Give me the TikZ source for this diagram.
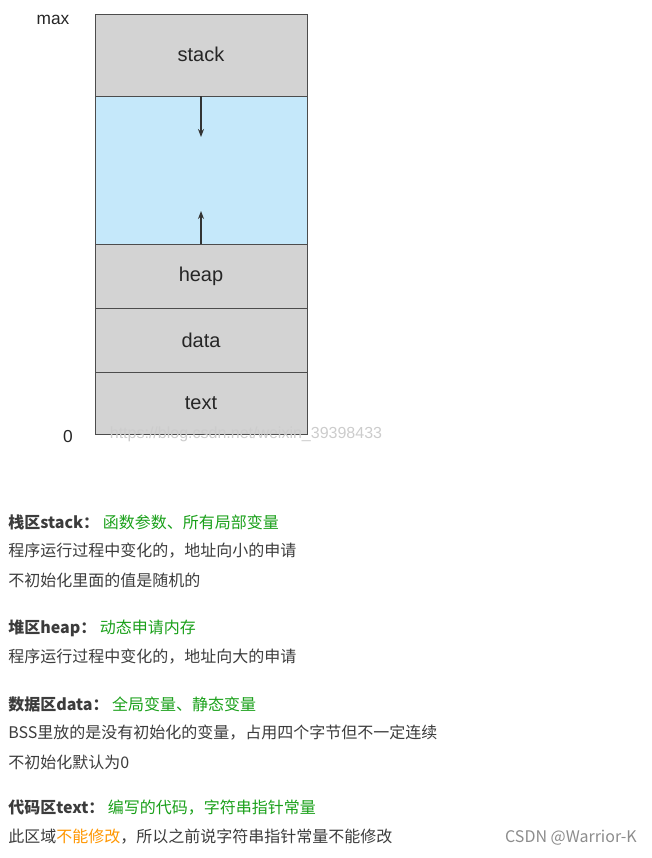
\documentclass[tikz,border=0pt]{standalone}
\usepackage{fontspec}
\setmainfont{Liberation Sans}
\newfontfamily\cjk{Noto Sans CJK SC}
\usetikzlibrary{arrows.meta}
\definecolor{seg}{RGB}{211,211,211}
\definecolor{free}{RGB}{197,232,250}
\definecolor{grn}{RGB}{26,160,26}
\definecolor{org}{RGB}{255,150,0}
\definecolor{txt}{RGB}{60,60,60}
\tikzset{
  segbox/.style={draw=black!70,fill=seg,line width=0.6pt},
  seglabel/.style={font=\fontsize{15}{15}\selectfont,text=black!85},
  line/.style={anchor=west,inner sep=0pt,font=\cjk\fontsize{12}{12}\selectfont,text=txt}
}
\begin{document}
\begin{tikzpicture}[x=0.75pt,y=-0.75pt]
\useasboundingbox (0,0) rectangle (651,858);
% memory layout
\draw[segbox] (95,14) rectangle (307,96);
\draw[segbox,fill=free] (95,96) rectangle (307,244);
\draw[segbox] (95,244) rectangle (307,308);
\draw[segbox] (95,308) rectangle (307,372);
\draw[segbox] (95,372) rectangle (307,434);
\node[seglabel] (stack) at (201,54) {stack};
\node[seglabel] (heap) at (201,276) {heap};
\node[seglabel] (data) at (201,340) {data};
\node[seglabel] (text) at (201,403) {text};
\node[seglabel,font=\fontsize{13}{13}\selectfont] (max) at (53,20) {max};
\node[seglabel,font=\fontsize{13}{13}\selectfont] (zero) at (68,437) {0};
\node[text=black!20,font=\fontsize{12}{12}\selectfont] (wm) at (246,434) {https://blog.csdn.net/weixin\_39398433};
\coordinate (s0) at (201,96); \coordinate (s1) at (201,137);
\coordinate (h0) at (201,244); \coordinate (h1) at (201,211);
\draw[-{Stealth[length=6pt]},line width=1pt,black!80] (s0) -- (s1);
\draw[-{Stealth[length=6pt]},line width=1pt,black!80] (h0) -- (h1);
% notes
\node[line] (l1) at (8,522) {\textbf{栈区stack：}\ \textcolor{grn}{函数参数、所有局部变量}};
\node[line] (l2) at (8,551) {程序运行过程中变化的，地址向小的申请};
\node[line] (l3) at (8,580) {不初始化里面的值是随机的};
\node[line] (l4) at (8,628) {\textbf{堆区heap：}\ \textcolor{grn}{动态申请内存}};
\node[line] (l5) at (8,657) {程序运行过程中变化的，地址向大的申请};
\node[line] (l6) at (8,704) {\textbf{数据区data：}\ \textcolor{grn}{全局变量、静态变量}};
\node[line] (l7) at (8,733) {BSS里放的是没有初始化的变量，占用四个字节但不一定连续};
\node[line] (l8) at (8,762) {不初始化默认为0};
\node[line] (l9) at (8,808) {\textbf{代码区text：}\ \textcolor{grn}{编写的代码，字符串指针常量}};
\node[line] (l10) at (8,837) {此区域\textcolor{org}{不能修改}，所以之前说字符串指针常量不能修改};
\node[line,anchor=east,text=black!45] (csdn) at (637,838) {CSDN @Warrior-K};
\end{tikzpicture}
\end{document}
